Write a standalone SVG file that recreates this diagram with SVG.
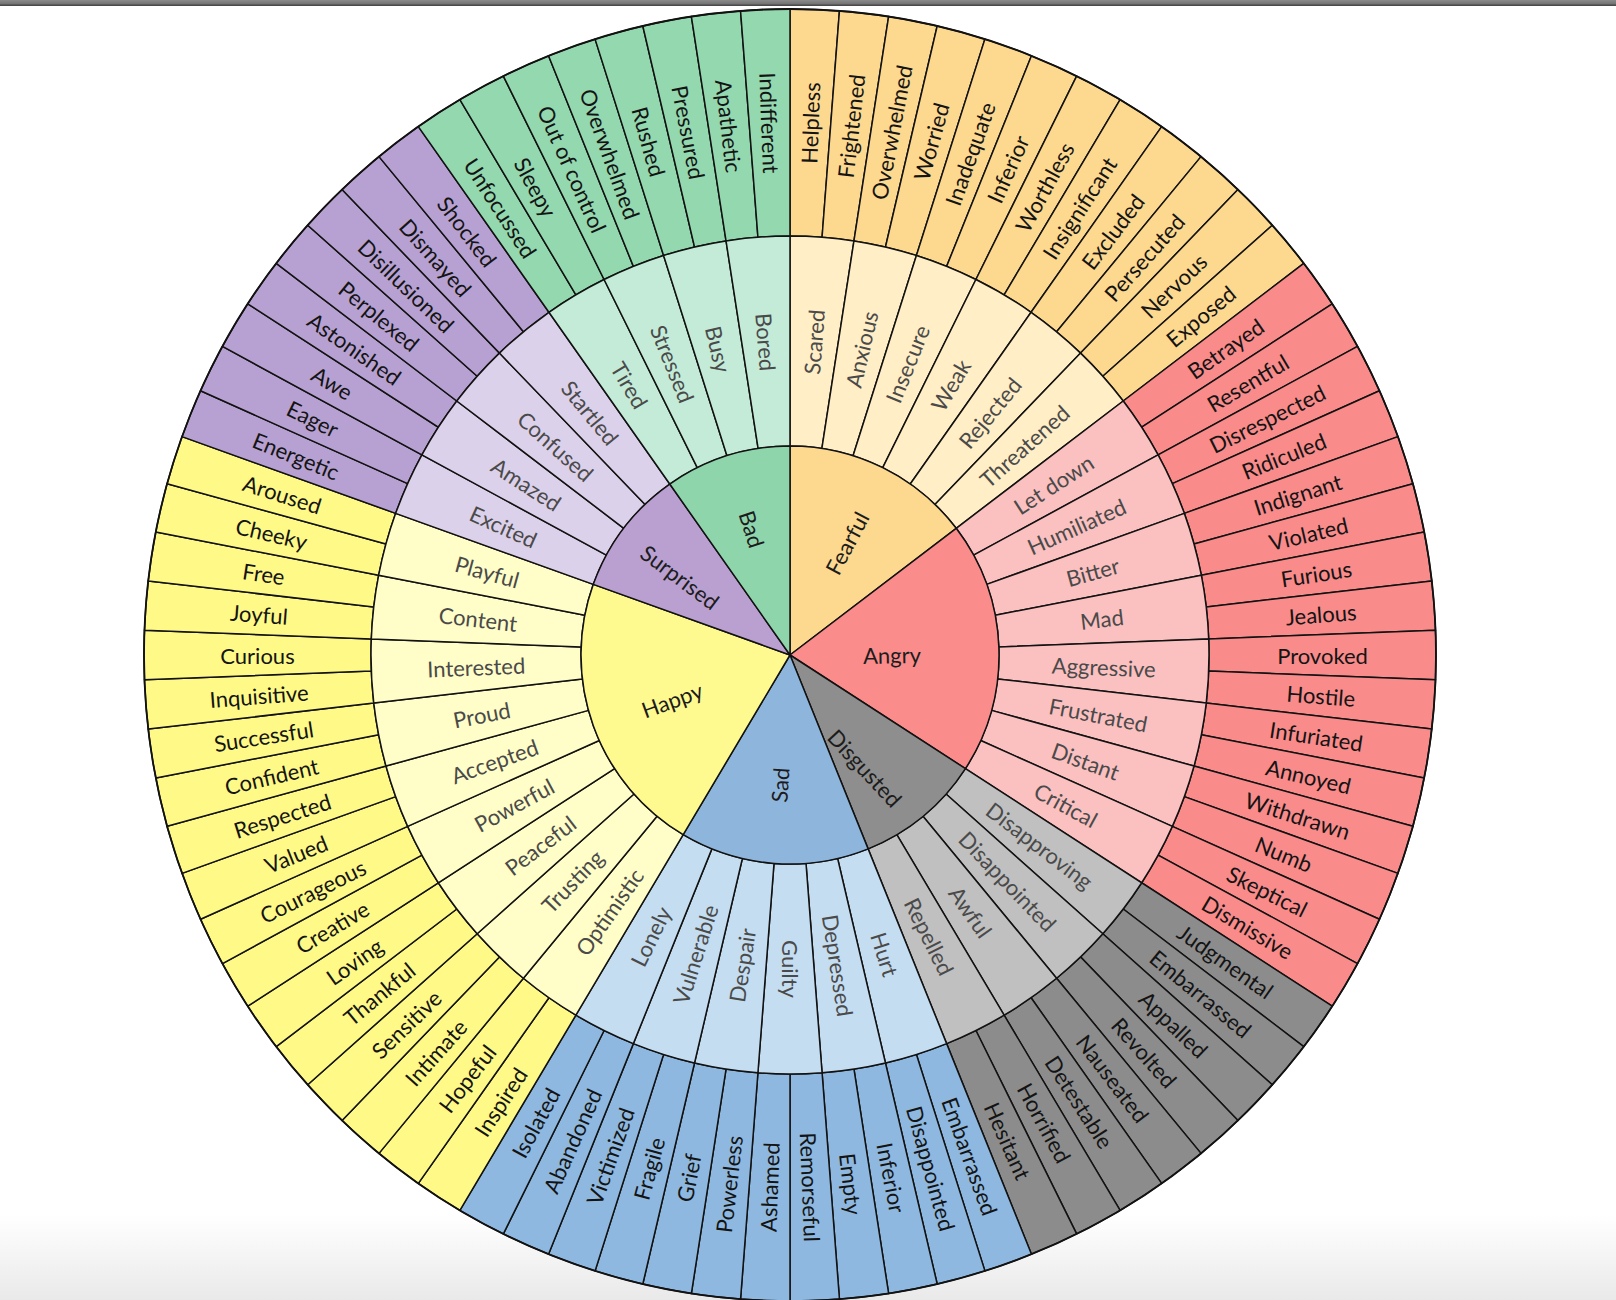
<svg xmlns="http://www.w3.org/2000/svg" xmlns:xlink="http://www.w3.org/1999/xlink" width="1616" height="1300" viewBox="0 0 1616 1300">
<style>
use,.core{stroke:#121212;stroke-width:1.5;stroke-linejoin:round}
text{font-family:Lato,"Liberation Sans","DejaVu Sans",sans-serif;font-size:22px;text-anchor:middle;dominant-baseline:central}
.ot{fill:#141414}
.mt{fill:#4a4a4a}
.ct{fill:#1c1c1c}
.fo,.fc{fill:#FDD88F}.fm{fill:#FFEEC6}
.ao{fill:#F98B8B}.ac{fill:#FA8C8C}.am{fill:#FBC0C0}
.do{fill:#8C8C8C}.dc{fill:#8E8E8E}.dm{fill:#C0C0C0}
.so{fill:#8EB8DF}.sc{fill:#8EB6DD}.sm{fill:#C4DDF1}
.ho{fill:#FFFA87}.hc{fill:#FFFA90}.hm{fill:#FFFDC8}
.uo{fill:#B7A1D2}.uc{fill:#B9A0D1}.um{fill:#DCD1EA}
.bo{fill:#93D8AE}.bc{fill:#8FD5AC}.bm{fill:#C3EBD7}
</style>
<defs>
<linearGradient id="bot" x1="0" y1="0" x2="0" y2="1"><stop offset="0" stop-color="#ffffff"/><stop offset="1" stop-color="#e9e9e9"/></linearGradient>
<linearGradient id="topg" x1="0" y1="0" x2="0" y2="1"><stop offset="0" stop-color="#8a8a8a"/><stop offset="1" stop-color="#6e6e6e"/></linearGradient>
<path id="o" d="M0,-419 L0,-646 A646,646 0 0 1 49.45,-644.11 L32.07,-417.77 A419,419 0 0 0 0,-419 Z"/>
<path id="m" d="M0,-209 L0,-419 A419,419 0 0 1 63.96,-414.09 L31.90,-206.55 A209,209 0 0 0 0,-209 Z"/>
</defs>
<rect width="1616" height="1300" fill="#ffffff"/>
<rect x="0" y="1215" width="1616" height="85" fill="url(#bot)"/>
<rect x="0" y="0" width="1616" height="5" fill="url(#topg)"/>
<rect x="0" y="4.5" width="1616" height="1.5" fill="#4a4a4a"/>
<g transform="translate(790 655)">
<!-- Fearful outer -->
<g id="o-helpless" transform="rotate(0)"><use href="#o" class="fo"/><text class="ot" transform="rotate(-87.805) translate(532.5 0)">Helpless</text></g>
<g id="o-frightened" transform="rotate(4.390)"><use href="#o" class="fo"/><text class="ot" transform="rotate(-87.805) translate(532.5 0)">Frightened</text></g>
<g id="o-overwhelmed-f" transform="rotate(8.780)"><use href="#o" class="fo"/><text class="ot" transform="rotate(-87.805) translate(532.5 0)">Overwhelmed</text></g>
<g id="o-worried" transform="rotate(13.171)"><use href="#o" class="fo"/><text class="ot" transform="rotate(-87.805) translate(532.5 0)">Worried</text></g>
<g id="o-inadequate" transform="rotate(17.561)"><use href="#o" class="fo"/><text class="ot" transform="rotate(-87.805) translate(532.5 0)">Inadequate</text></g>
<g id="o-inferior-f" transform="rotate(21.951)"><use href="#o" class="fo"/><text class="ot" transform="rotate(-87.805) translate(532.5 0)">Inferior</text></g>
<g id="o-worthless" transform="rotate(26.341)"><use href="#o" class="fo"/><text class="ot" transform="rotate(-87.805) translate(532.5 0)">Worthless</text></g>
<g id="o-insignificant" transform="rotate(30.732)"><use href="#o" class="fo"/><text class="ot" transform="rotate(-87.805) translate(532.5 0)">Insignificant</text></g>
<g id="o-excluded" transform="rotate(35.122)"><use href="#o" class="fo"/><text class="ot" transform="rotate(-87.805) translate(532.5 0)">Excluded</text></g>
<g id="o-persecuted" transform="rotate(39.512)"><use href="#o" class="fo"/><text class="ot" transform="rotate(-87.805) translate(532.5 0)">Persecuted</text></g>
<g id="o-nervous" transform="rotate(43.902)"><use href="#o" class="fo"/><text class="ot" transform="rotate(-87.805) translate(532.5 0)">Nervous</text></g>
<g id="o-exposed" transform="rotate(48.293)"><use href="#o" class="fo"/><text class="ot" transform="rotate(-87.805) translate(532.5 0)">Exposed</text></g>
<!-- Angry outer -->
<g id="o-betrayed" transform="rotate(52.683)"><use href="#o" class="ao"/><text class="ot" transform="rotate(-87.805) translate(532.5 0)">Betrayed</text></g>
<g id="o-resentful" transform="rotate(57.073)"><use href="#o" class="ao"/><text class="ot" transform="rotate(-87.805) translate(532.5 0)">Resentful</text></g>
<g id="o-disrespected" transform="rotate(61.463)"><use href="#o" class="ao"/><text class="ot" transform="rotate(-87.805) translate(532.5 0)">Disrespected</text></g>
<g id="o-ridiculed" transform="rotate(65.854)"><use href="#o" class="ao"/><text class="ot" transform="rotate(-87.805) translate(532.5 0)">Ridiculed</text></g>
<g id="o-indignant" transform="rotate(70.244)"><use href="#o" class="ao"/><text class="ot" transform="rotate(-87.805) translate(532.5 0)">Indignant</text></g>
<g id="o-violated" transform="rotate(74.634)"><use href="#o" class="ao"/><text class="ot" transform="rotate(-87.805) translate(532.5 0)">Violated</text></g>
<g id="o-furious" transform="rotate(79.024)"><use href="#o" class="ao"/><text class="ot" transform="rotate(-87.805) translate(532.5 0)">Furious</text></g>
<g id="o-jealous" transform="rotate(83.415)"><use href="#o" class="ao"/><text class="ot" transform="rotate(-87.805) translate(532.5 0)">Jealous</text></g>
<g id="o-provoked" transform="rotate(87.805)"><use href="#o" class="ao"/><text class="ot" transform="rotate(-87.805) translate(532.5 0)">Provoked</text></g>
<g id="o-hostile" transform="rotate(92.195)"><use href="#o" class="ao"/><text class="ot" transform="rotate(-87.805) translate(532.5 0)">Hostile</text></g>
<g id="o-infuriated" transform="rotate(96.585)"><use href="#o" class="ao"/><text class="ot" transform="rotate(-87.805) translate(532.5 0)">Infuriated</text></g>
<g id="o-annoyed" transform="rotate(100.976)"><use href="#o" class="ao"/><text class="ot" transform="rotate(-87.805) translate(532.5 0)">Annoyed</text></g>
<g id="o-withdrawn" transform="rotate(105.366)"><use href="#o" class="ao"/><text class="ot" transform="rotate(-87.805) translate(532.5 0)">Withdrawn</text></g>
<g id="o-numb" transform="rotate(109.756)"><use href="#o" class="ao"/><text class="ot" transform="rotate(-87.805) translate(532.5 0)">Numb</text></g>
<g id="o-skeptical" transform="rotate(114.146)"><use href="#o" class="ao"/><text class="ot" transform="rotate(-87.805) translate(532.5 0)">Skeptical</text></g>
<g id="o-dismissive" transform="rotate(118.537)"><use href="#o" class="ao"/><text class="ot" transform="rotate(-87.805) translate(532.5 0)">Dismissive</text></g>
<!-- Disgusted outer -->
<g id="o-judgmental" transform="rotate(122.927)"><use href="#o" class="do"/><text class="ot" transform="rotate(-87.805) translate(532.5 0)">Judgmental</text></g>
<g id="o-embarrassed-d" transform="rotate(127.317)"><use href="#o" class="do"/><text class="ot" transform="rotate(-87.805) translate(532.5 0)">Embarrassed</text></g>
<g id="o-appalled" transform="rotate(131.707)"><use href="#o" class="do"/><text class="ot" transform="rotate(-87.805) translate(532.5 0)">Appalled</text></g>
<g id="o-revolted" transform="rotate(136.098)"><use href="#o" class="do"/><text class="ot" transform="rotate(-87.805) translate(532.5 0)">Revolted</text></g>
<g id="o-nauseated" transform="rotate(140.488)"><use href="#o" class="do"/><text class="ot" transform="rotate(-87.805) translate(532.5 0)">Nauseated</text></g>
<g id="o-detestable" transform="rotate(144.878)"><use href="#o" class="do"/><text class="ot" transform="rotate(-87.805) translate(532.5 0)">Detestable</text></g>
<g id="o-horrified" transform="rotate(149.268)"><use href="#o" class="do"/><text class="ot" transform="rotate(-87.805) translate(532.5 0)">Horrified</text></g>
<g id="o-hesitant" transform="rotate(153.659)"><use href="#o" class="do"/><text class="ot" transform="rotate(-87.805) translate(532.5 0)">Hesitant</text></g>
<!-- Sad outer -->
<g id="o-embarrassed-s" transform="rotate(158.049)"><use href="#o" class="so"/><text class="ot" transform="rotate(-87.805) translate(532.5 0)">Embarrassed</text></g>
<g id="o-disappointed-s" transform="rotate(162.439)"><use href="#o" class="so"/><text class="ot" transform="rotate(-87.805) translate(532.5 0)">Disappointed</text></g>
<g id="o-inferior-s" transform="rotate(166.829)"><use href="#o" class="so"/><text class="ot" transform="rotate(-87.805) translate(532.5 0)">Inferior</text></g>
<g id="o-empty" transform="rotate(171.220)"><use href="#o" class="so"/><text class="ot" transform="rotate(-87.805) translate(532.5 0)">Empty</text></g>
<g id="o-remorseful" transform="rotate(175.610)"><use href="#o" class="so"/><text class="ot" transform="rotate(-87.805) translate(532.5 0)">Remorseful</text></g>
<g id="o-ashamed" transform="rotate(180)"><use href="#o" class="so"/><text class="ot" transform="rotate(92.195) translate(-532.5 0)">Ashamed</text></g>
<g id="o-powerless" transform="rotate(184.390)"><use href="#o" class="so"/><text class="ot" transform="rotate(92.195) translate(-532.5 0)">Powerless</text></g>
<g id="o-grief" transform="rotate(188.780)"><use href="#o" class="so"/><text class="ot" transform="rotate(92.195) translate(-532.5 0)">Grief</text></g>
<g id="o-fragile" transform="rotate(193.171)"><use href="#o" class="so"/><text class="ot" transform="rotate(92.195) translate(-532.5 0)">Fragile</text></g>
<g id="o-victimized" transform="rotate(197.561)"><use href="#o" class="so"/><text class="ot" transform="rotate(92.195) translate(-532.5 0)">Victimized</text></g>
<g id="o-abandoned" transform="rotate(201.951)"><use href="#o" class="so"/><text class="ot" transform="rotate(92.195) translate(-532.5 0)">Abandoned</text></g>
<g id="o-isolated" transform="rotate(206.341)"><use href="#o" class="so"/><text class="ot" transform="rotate(92.195) translate(-532.5 0)">Isolated</text></g>
<!-- Happy outer -->
<g id="o-inspired" transform="rotate(210.732)"><use href="#o" class="ho"/><text class="ot" transform="rotate(92.195) translate(-532.5 0)">Inspired</text></g>
<g id="o-hopeful" transform="rotate(215.122)"><use href="#o" class="ho"/><text class="ot" transform="rotate(92.195) translate(-532.5 0)">Hopeful</text></g>
<g id="o-intimate" transform="rotate(219.512)"><use href="#o" class="ho"/><text class="ot" transform="rotate(92.195) translate(-532.5 0)">Intimate</text></g>
<g id="o-sensitive" transform="rotate(223.902)"><use href="#o" class="ho"/><text class="ot" transform="rotate(92.195) translate(-532.5 0)">Sensitive</text></g>
<g id="o-thankful" transform="rotate(228.293)"><use href="#o" class="ho"/><text class="ot" transform="rotate(92.195) translate(-532.5 0)">Thankful</text></g>
<g id="o-loving" transform="rotate(232.683)"><use href="#o" class="ho"/><text class="ot" transform="rotate(92.195) translate(-532.5 0)">Loving</text></g>
<g id="o-creative" transform="rotate(237.073)"><use href="#o" class="ho"/><text class="ot" transform="rotate(92.195) translate(-532.5 0)">Creative</text></g>
<g id="o-courageous" transform="rotate(241.463)"><use href="#o" class="ho"/><text class="ot" transform="rotate(92.195) translate(-532.5 0)">Courageous</text></g>
<g id="o-valued" transform="rotate(245.854)"><use href="#o" class="ho"/><text class="ot" transform="rotate(92.195) translate(-532.5 0)">Valued</text></g>
<g id="o-respected" transform="rotate(250.244)"><use href="#o" class="ho"/><text class="ot" transform="rotate(92.195) translate(-532.5 0)">Respected</text></g>
<g id="o-confident" transform="rotate(254.634)"><use href="#o" class="ho"/><text class="ot" transform="rotate(92.195) translate(-532.5 0)">Confident</text></g>
<g id="o-successful" transform="rotate(259.024)"><use href="#o" class="ho"/><text class="ot" transform="rotate(92.195) translate(-532.5 0)">Successful</text></g>
<g id="o-inquisitive" transform="rotate(263.415)"><use href="#o" class="ho"/><text class="ot" transform="rotate(92.195) translate(-532.5 0)">Inquisitive</text></g>
<g id="o-curious" transform="rotate(267.805)"><use href="#o" class="ho"/><text class="ot" transform="rotate(92.195) translate(-532.5 0)">Curious</text></g>
<g id="o-joyful" transform="rotate(272.195)"><use href="#o" class="ho"/><text class="ot" transform="rotate(92.195) translate(-532.5 0)">Joyful</text></g>
<g id="o-free" transform="rotate(276.585)"><use href="#o" class="ho"/><text class="ot" transform="rotate(92.195) translate(-532.5 0)">Free</text></g>
<g id="o-cheeky" transform="rotate(280.976)"><use href="#o" class="ho"/><text class="ot" transform="rotate(92.195) translate(-532.5 0)">Cheeky</text></g>
<g id="o-aroused" transform="rotate(285.366)"><use href="#o" class="ho"/><text class="ot" transform="rotate(92.195) translate(-532.5 0)">Aroused</text></g>
<!-- Surprised outer -->
<g id="o-energetic" transform="rotate(289.756)"><use href="#o" class="uo"/><text class="ot" transform="rotate(92.195) translate(-532.5 0)">Energetic</text></g>
<g id="o-eager" transform="rotate(294.146)"><use href="#o" class="uo"/><text class="ot" transform="rotate(92.195) translate(-532.5 0)">Eager</text></g>
<g id="o-awe" transform="rotate(298.537)"><use href="#o" class="uo"/><text class="ot" transform="rotate(92.195) translate(-532.5 0)">Awe</text></g>
<g id="o-astonished" transform="rotate(302.927)"><use href="#o" class="uo"/><text class="ot" transform="rotate(92.195) translate(-532.5 0)">Astonished</text></g>
<g id="o-perplexed" transform="rotate(307.317)"><use href="#o" class="uo"/><text class="ot" transform="rotate(92.195) translate(-532.5 0)">Perplexed</text></g>
<g id="o-disillusioned" transform="rotate(311.707)"><use href="#o" class="uo"/><text class="ot" transform="rotate(92.195) translate(-532.5 0)">Disillusioned</text></g>
<g id="o-dismayed" transform="rotate(316.098)"><use href="#o" class="uo"/><text class="ot" transform="rotate(92.195) translate(-532.5 0)">Dismayed</text></g>
<g id="o-shocked" transform="rotate(320.488)"><use href="#o" class="uo"/><text class="ot" transform="rotate(92.195) translate(-532.5 0)">Shocked</text></g>
<!-- Bad outer -->
<g id="o-unfocussed" transform="rotate(324.878)"><use href="#o" class="bo"/><text class="ot" transform="rotate(92.195) translate(-532.5 0)">Unfocussed</text></g>
<g id="o-sleepy" transform="rotate(329.268)"><use href="#o" class="bo"/><text class="ot" transform="rotate(92.195) translate(-532.5 0)">Sleepy</text></g>
<g id="o-out-of-control" transform="rotate(333.659)"><use href="#o" class="bo"/><text class="ot" transform="rotate(92.195) translate(-532.5 0)">Out of control</text></g>
<g id="o-overwhelmed-b" transform="rotate(338.049)"><use href="#o" class="bo"/><text class="ot" transform="rotate(92.195) translate(-532.5 0)">Overwhelmed</text></g>
<g id="o-rushed" transform="rotate(342.439)"><use href="#o" class="bo"/><text class="ot" transform="rotate(92.195) translate(-532.5 0)">Rushed</text></g>
<g id="o-pressured" transform="rotate(346.829)"><use href="#o" class="bo"/><text class="ot" transform="rotate(92.195) translate(-532.5 0)">Pressured</text></g>
<g id="o-apathetic" transform="rotate(351.220)"><use href="#o" class="bo"/><text class="ot" transform="rotate(92.195) translate(-532.5 0)">Apathetic</text></g>
<g id="o-indifferent" transform="rotate(355.610)"><use href="#o" class="bo"/><text class="ot" transform="rotate(92.195) translate(-532.5 0)">Indifferent</text></g>

<!-- Middle ring -->
<g id="m-scared" transform="rotate(0)"><use href="#m" class="fm"/><text class="mt" transform="rotate(-85.61) translate(314 0)">Scared</text></g>
<g id="m-anxious" transform="rotate(8.780)"><use href="#m" class="fm"/><text class="mt" transform="rotate(-85.61) translate(314 0)">Anxious</text></g>
<g id="m-insecure" transform="rotate(17.561)"><use href="#m" class="fm"/><text class="mt" transform="rotate(-85.61) translate(314 0)">Insecure</text></g>
<g id="m-weak" transform="rotate(26.341)"><use href="#m" class="fm"/><text class="mt" transform="rotate(-85.61) translate(314 0)">Weak</text></g>
<g id="m-rejected" transform="rotate(35.122)"><use href="#m" class="fm"/><text class="mt" transform="rotate(-85.61) translate(314 0)">Rejected</text></g>
<g id="m-threatened" transform="rotate(43.902)"><use href="#m" class="fm"/><text class="mt" transform="rotate(-85.61) translate(314 0)">Threatened</text></g>
<g id="m-let-down" transform="rotate(52.683)"><use href="#m" class="am"/><text class="mt" transform="rotate(-85.61) translate(314 0)">Let down</text></g>
<g id="m-humiliated" transform="rotate(61.463)"><use href="#m" class="am"/><text class="mt" transform="rotate(-85.61) translate(314 0)">Humiliated</text></g>
<g id="m-bitter" transform="rotate(70.244)"><use href="#m" class="am"/><text class="mt" transform="rotate(-85.61) translate(314 0)">Bitter</text></g>
<g id="m-mad" transform="rotate(79.024)"><use href="#m" class="am"/><text class="mt" transform="rotate(-85.61) translate(314 0)">Mad</text></g>
<g id="m-aggressive" transform="rotate(87.805)"><use href="#m" class="am"/><text class="mt" transform="rotate(-85.61) translate(314 0)">Aggressive</text></g>
<g id="m-frustrated" transform="rotate(96.585)"><use href="#m" class="am"/><text class="mt" transform="rotate(-85.61) translate(314 0)">Frustrated</text></g>
<g id="m-distant" transform="rotate(105.366)"><use href="#m" class="am"/><text class="mt" transform="rotate(-85.61) translate(314 0)">Distant</text></g>
<g id="m-critical" transform="rotate(114.146)"><use href="#m" class="am"/><text class="mt" transform="rotate(-85.61) translate(314 0)">Critical</text></g>
<g id="m-disapproving" transform="rotate(122.927)"><use href="#m" class="dm"/><text class="mt" transform="rotate(-85.61) translate(314 0)">Disapproving</text></g>
<g id="m-disappointed" transform="rotate(131.707)"><use href="#m" class="dm"/><text class="mt" transform="rotate(-85.61) translate(314 0)">Disappointed</text></g>
<g id="m-awful" transform="rotate(140.488)"><use href="#m" class="dm"/><text class="mt" transform="rotate(-85.61) translate(314 0)">Awful</text></g>
<g id="m-repelled" transform="rotate(149.268)"><use href="#m" class="dm"/><text class="mt" transform="rotate(-85.61) translate(314 0)">Repelled</text></g>
<g id="m-hurt" transform="rotate(158.049)"><use href="#m" class="sm"/><text class="mt" transform="rotate(-85.61) translate(314 0)">Hurt</text></g>
<g id="m-depressed" transform="rotate(166.829)"><use href="#m" class="sm"/><text class="mt" transform="rotate(-85.61) translate(314 0)">Depressed</text></g>
<g id="m-guilty" transform="rotate(175.610)"><use href="#m" class="sm"/><text class="mt" transform="rotate(-85.61) translate(314 0)">Guilty</text></g>
<g id="m-despair" transform="rotate(184.390)"><use href="#m" class="sm"/><text class="mt" transform="rotate(94.39) translate(-314 0)">Despair</text></g>
<g id="m-vulnerable" transform="rotate(193.171)"><use href="#m" class="sm"/><text class="mt" transform="rotate(94.39) translate(-314 0)">Vulnerable</text></g>
<g id="m-lonely" transform="rotate(201.951)"><use href="#m" class="sm"/><text class="mt" transform="rotate(94.39) translate(-314 0)">Lonely</text></g>
<g id="m-optimistic" transform="rotate(210.732)"><use href="#m" class="hm"/><text class="mt" transform="rotate(94.39) translate(-314 0)">Optimistic</text></g>
<g id="m-trusting" transform="rotate(219.512)"><use href="#m" class="hm"/><text class="mt" transform="rotate(94.39) translate(-314 0)">Trusting</text></g>
<g id="m-peaceful" transform="rotate(228.293)"><use href="#m" class="hm"/><text class="mt" transform="rotate(94.39) translate(-314 0)">Peaceful</text></g>
<g id="m-powerful" transform="rotate(237.073)"><use href="#m" class="hm"/><text class="mt" transform="rotate(94.39) translate(-314 0)">Powerful</text></g>
<g id="m-accepted" transform="rotate(245.854)"><use href="#m" class="hm"/><text class="mt" transform="rotate(94.39) translate(-314 0)">Accepted</text></g>
<g id="m-proud" transform="rotate(254.634)"><use href="#m" class="hm"/><text class="mt" transform="rotate(94.39) translate(-314 0)">Proud</text></g>
<g id="m-interested" transform="rotate(263.415)"><use href="#m" class="hm"/><text class="mt" transform="rotate(94.39) translate(-314 0)">Interested</text></g>
<g id="m-content" transform="rotate(272.195)"><use href="#m" class="hm"/><text class="mt" transform="rotate(94.39) translate(-314 0)">Content</text></g>
<g id="m-playful" transform="rotate(280.976)"><use href="#m" class="hm"/><text class="mt" transform="rotate(94.39) translate(-314 0)">Playful</text></g>
<g id="m-excited" transform="rotate(289.756)"><use href="#m" class="um"/><text class="mt" transform="rotate(94.39) translate(-314 0)">Excited</text></g>
<g id="m-amazed" transform="rotate(298.537)"><use href="#m" class="um"/><text class="mt" transform="rotate(94.39) translate(-314 0)">Amazed</text></g>
<g id="m-confused" transform="rotate(307.317)"><use href="#m" class="um"/><text class="mt" transform="rotate(94.39) translate(-314 0)">Confused</text></g>
<g id="m-startled" transform="rotate(316.098)"><use href="#m" class="um"/><text class="mt" transform="rotate(94.39) translate(-314 0)">Startled</text></g>
<g id="m-tired" transform="rotate(324.878)"><use href="#m" class="bm"/><text class="mt" transform="rotate(94.39) translate(-314 0)">Tired</text></g>
<g id="m-stressed" transform="rotate(333.659)"><use href="#m" class="bm"/><text class="mt" transform="rotate(94.39) translate(-314 0)">Stressed</text></g>
<g id="m-busy" transform="rotate(342.439)"><use href="#m" class="bm"/><text class="mt" transform="rotate(94.39) translate(-314 0)">Busy</text></g>
<g id="m-bored" transform="rotate(351.220)"><use href="#m" class="bm"/><text class="mt" transform="rotate(94.39) translate(-314 0)">Bored</text></g>

<!-- Core -->
<g id="c-fearful"><path class="core fc" d="M0,0 L0,-209 A209,209 0 0 1 166.22,-126.70 Z"/><text class="ct" transform="translate(57 -112) rotate(-62)">Fearful</text></g>
<g id="c-angry"><path class="core ac" d="M0,0 L166.22,-126.70 A209,209 0 0 1 175.43,113.61 Z"/><text class="ct" transform="translate(102 0) rotate(-1)">Angry</text></g>
<g id="c-disgusted"><path class="core dc" d="M0,0 L175.43,113.61 A209,209 0 0 1 78.13,193.85 Z"/><text class="ct" transform="translate(75 113) rotate(47)">Disgusted</text></g>
<g id="c-sad"><path class="core sc" d="M0,0 L78.13,193.85 A209,209 0 0 1 -106.80,179.65 Z"/><text class="ct" transform="translate(-10 130) rotate(-86)">Sad</text></g>
<g id="c-happy"><path class="core hc" d="M0,0 L-106.80,179.65 A209,209 0 0 1 -196.70,-70.65 Z"/><text class="ct" transform="translate(-118 45) rotate(-20)">Happy</text></g>
<g id="c-surprised"><path class="core uc" d="M0,0 L-196.70,-70.65 A209,209 0 0 1 -120.24,-170.95 Z"/><text class="ct" transform="translate(-110 -78) rotate(37)">Surprised</text></g>
<g id="c-bad"><path class="core bc" d="M0,0 L-120.24,-170.95 A209,209 0 0 1 0,-209 Z"/><text class="ct" transform="translate(-38 -126) rotate(72)">Bad</text></g>
<circle r="646" fill="none" stroke="#121212" stroke-width="1.8"/>
</g>
</svg>
